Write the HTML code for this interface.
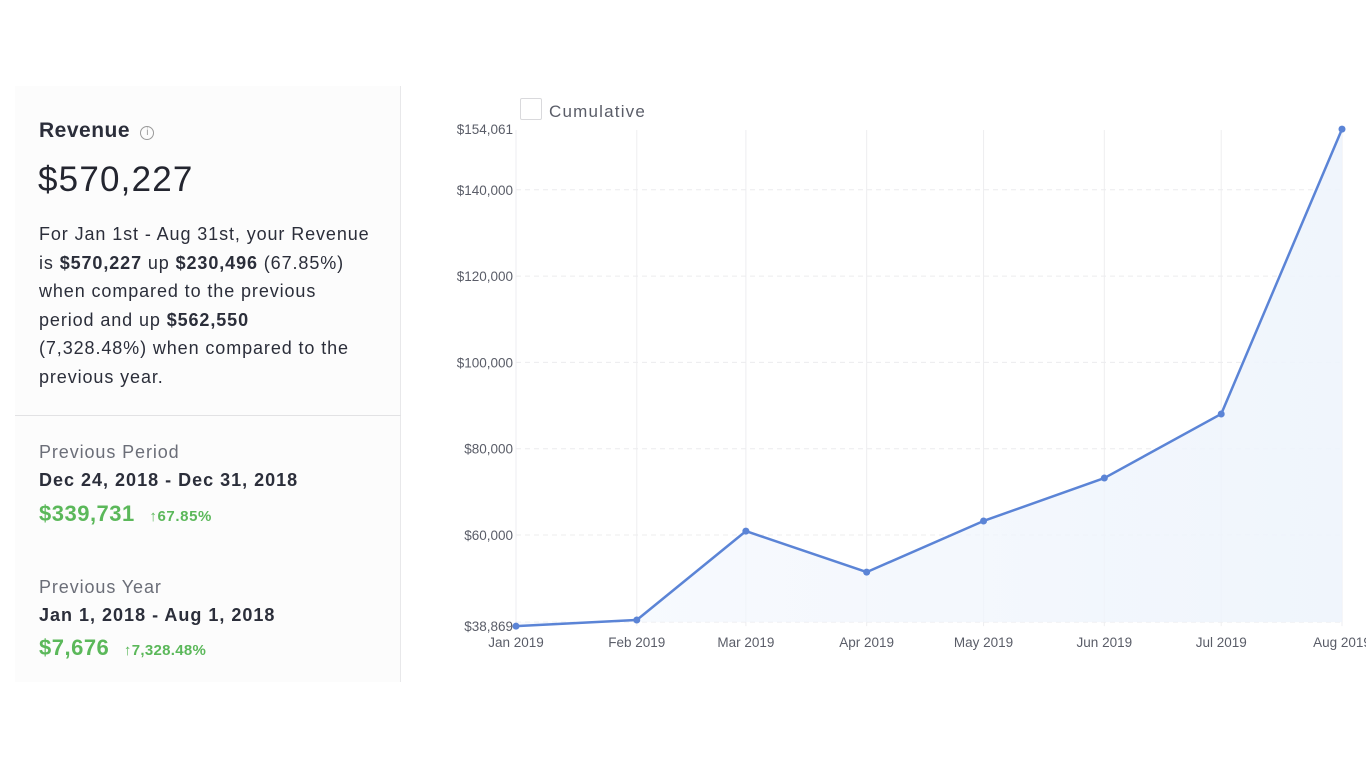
<!DOCTYPE html>
<html><head><meta charset="utf-8"><style>
*{margin:0;padding:0;box-sizing:border-box}
body{width:1366px;height:768px;background:#fff;font-family:"Liberation Sans",sans-serif;position:relative;overflow:hidden;color:#2b2e3a}
.a{position:absolute;white-space:nowrap}
.panel{position:absolute;left:15px;top:86px;width:386px;height:596px;border-right:1px solid #e8e8ea;background:#fcfcfc}
.div{position:absolute;left:15px;top:415px;width:386px;height:1px;background:#e2e2e4}
.p{font-size:18px;line-height:28.5px;color:#2b2e3a;letter-spacing:0.9px}
.g{color:#5bb85a;font-weight:bold}
</style></head><body>
<div class="panel"></div>
<div class="div"></div>
<div class="a" style="left:39px;top:119px;font-size:21px;font-weight:bold;letter-spacing:0.5px">Revenue <span style="display:inline-block;width:14px;height:14px;border:1px solid #999;border-radius:50%;font-size:10px;text-align:center;line-height:12px;color:#999;font-weight:normal;vertical-align:2px;margin-left:4px;letter-spacing:0">i</span></div>
<div class="a" style="left:38px;top:160px;font-size:35px;color:#23252f;letter-spacing:1.2px">$570,227</div>
<div class="a p" style="left:39px;top:220px">For Jan 1st - Aug 31st, your Revenue<br>is <b>$570,227</b> up <b>$230,496</b> (67.85%)<br>when compared to the previous<br>period and up <b>$562,550</b><br>(7,328.48%) when compared to the<br>previous year.</div>
<div class="a" style="left:39px;top:442px;font-size:18px;color:#6b6e78;letter-spacing:0.9px">Previous Period</div>
<div class="a" style="left:39px;top:470px;font-size:18px;font-weight:bold;letter-spacing:1px">Dec 24, 2018 - Dec 31, 2018</div>
<div class="a g" style="left:39px;top:501px;font-size:22px;letter-spacing:0.5px">$339,731 <span style="font-size:15px;margin-left:8px;letter-spacing:0.6px">↑67.85%</span></div>
<div class="a" style="left:39px;top:577px;font-size:18px;color:#6b6e78;letter-spacing:0.9px">Previous Year</div>
<div class="a" style="left:39px;top:605px;font-size:18px;font-weight:bold;letter-spacing:1px">Jan 1, 2018 - Aug 1, 2018</div>
<div class="a g" style="left:39px;top:635px;font-size:22px;letter-spacing:0.5px">$7,676 <span style="font-size:15px;margin-left:8px;letter-spacing:0.3px">↑7,328.48%</span></div>
<div class="a" style="left:520px;top:98px;width:22px;height:22px;border:1px solid #d9d9dc;border-radius:2px"></div>
<div class="a" style="left:549px;top:102px;font-size:17px;color:#5a5d68;letter-spacing:1.2px">Cumulative</div>
<svg id="chart" class="a" style="left:0;top:0" width="1366" height="768">
<defs><linearGradient id="fg" x1="0" x2="1" y1="0" y2="0"><stop offset="0" stop-color="#f3f7fd" stop-opacity="0.6"/><stop offset="1" stop-color="#eef4fc" stop-opacity="0.9"/></linearGradient></defs>
</svg>
<script>
const months=["Jan 2019","Feb 2019","Mar 2019","Apr 2019","May 2019","Jun 2019","Jul 2019","Aug 2019"];
const dayOffsets=[0,31,59,90,120,151,181,212];
const revenue=[38869,40300,60900,51400,63250,73200,88050,154061];
const yTicks=[38869,60000,80000,100000,120000,140000,154061];
const tickLabels=["$38,869","$60,000","$80,000","$100,000","$120,000","$140,000","$154,061"];
const svg=document.getElementById('chart');const NS="http://www.w3.org/2000/svg";
const x=d=>516+(d/212)*826;
const y=v=>535-(v-60000)*0.004315;
function mk(t,a){const e=document.createElementNS(NS,t);for(const k in a)e.setAttribute(k,a[k]);svg.appendChild(e);return e;}
dayOffsets.forEach((d,i)=>{
 const l=mk('line',{x1:x(d),x2:x(d),y1:130,y2:y(yTicks[0]),stroke:'#eeeef0','stroke-width':1});
 
 
 const t=mk('text',{x:x(d),y:647,'text-anchor':'middle','font-size':13.5,fill:'#5a5d68','font-family':'Liberation Sans, sans-serif'});
 t.textContent=months[i];
 
 
});
yTicks.forEach((v,i)=>{
 if(i>0&&i<yTicks.length-1){const l=mk('line',{x1:516,x2:1342,y1:y(v),y2:y(v),stroke:'#ececee','stroke-dasharray':'5 4'});
 
 }
 const t=mk('text',{x:513,y:y(v)+5,'text-anchor':'end','font-size':13.5,fill:'#5a5d68','font-family':'Liberation Sans, sans-serif'});
 t.textContent=tickLabels[i];
 
 
});
const base=y(yTicks[0])-4;
const bl=mk('line',{x1:516,x2:1342,y1:base,y2:base,stroke:'#ececee','stroke-dasharray':'5 4'});


let pts=revenue.map((v,i)=>x(dayOffsets[i])+','+y(v));
const area=mk('polygon',{points:pts.join(' ')+' '+x(212)+','+base+' '+x(0)+','+base,fill:'url(#fg)'});


const line=mk('polyline',{points:pts.join(' '),fill:'none',stroke:'#5b84d6','stroke-width':2.5,'stroke-linejoin':'round'});


revenue.forEach((v,i)=>{
 const c=mk('circle',{cx:x(dayOffsets[i]),cy:y(v),r:3.5,fill:'#5b84d6'});
 
 
});
</script>
</body></html>
